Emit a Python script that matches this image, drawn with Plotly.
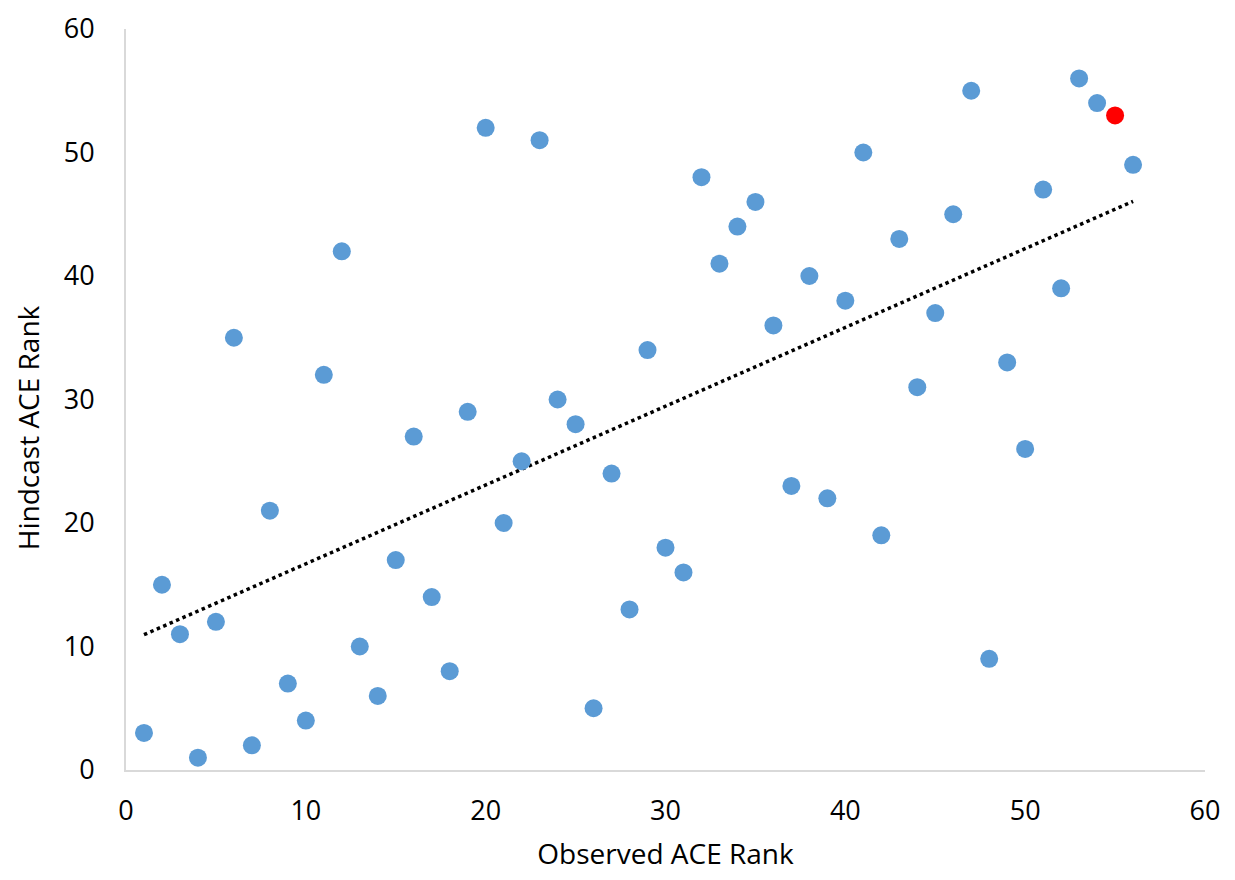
import numpy as np
import plotly.graph_objects as go

observed = list(range(1, 57))
hindcast = [3, 15, 11, 1, 12, 35, 2, 21, 7, 4, 32, 42, 10, 6, 17, 27, 14, 8, 29, 52,
            20, 25, 51, 30, 28, 5, 24, 13, 34, 18, 16, 48, 41, 44, 46, 36, 23, 40, 22, 38,
            50, 19, 43, 31, 37, 45, 55, 9, 33, 26, 47, 39, 56, 54, 53, 49]
highlight_index = 54  # observed rank 55

colors = ["#5B9BD5"] * len(observed)
colors[highlight_index] = "#FF0000"

slope, intercept = np.polyfit(observed, hindcast, 1)
trend_x = [min(observed), max(observed)]
trend_y = [slope * v + intercept for v in trend_x]

fig = go.Figure()
fig.add_trace(go.Scatter(x=trend_x, y=trend_y, mode="lines",
                         line=dict(color="black", width=3.5, dash="dot"),
                         showlegend=False, hoverinfo="skip"))
fig.add_trace(go.Scatter(x=observed, y=hindcast, mode="markers",
                         marker=dict(size=18, color=colors, line=dict(width=0)),
                         showlegend=False))

font_family = "'Open Sans', sans-serif"
fig.update_layout(
    width=1219, height=864,
    margin=dict(l=118, r=22, t=21, b=102),
    plot_bgcolor="white", paper_bgcolor="white",
    font=dict(family=font_family, size=28, color="black"),
)
fig.update_xaxes(range=[0, 60], tickvals=[0, 10, 20, 30, 40, 50, 60],
                 showgrid=False, zeroline=False, showline=True, automargin=False,
                 linecolor="#D9D9D9", linewidth=2, ticklabeloverflow="allow",
                 ticks="outside", ticklen=16, tickcolor="rgba(0,0,0,0)",
                 title=dict(text="Observed ACE Rank", standoff=20, font=dict(size=28)),
                 tickfont=dict(size=27))
fig.update_yaxes(range=[0, 60], tickvals=[0, 10, 20, 30, 40, 50, 60],
                 showgrid=False, zeroline=False, showline=True, automargin=False,
                 linecolor="#D9D9D9", linewidth=2, ticklabeloverflow="allow",
                 ticks="outside", ticklen=24, tickcolor="rgba(0,0,0,0)",
                 tickfont=dict(size=27))
fig.add_annotation(text="Hindcast ACE Rank", textangle=-90, showarrow=False,
                   xref="paper", yref="paper", x=-0.0908, y=0.4613,
                   xanchor="center", yanchor="middle", font=dict(size=28))

fig.write_html("out.html")
